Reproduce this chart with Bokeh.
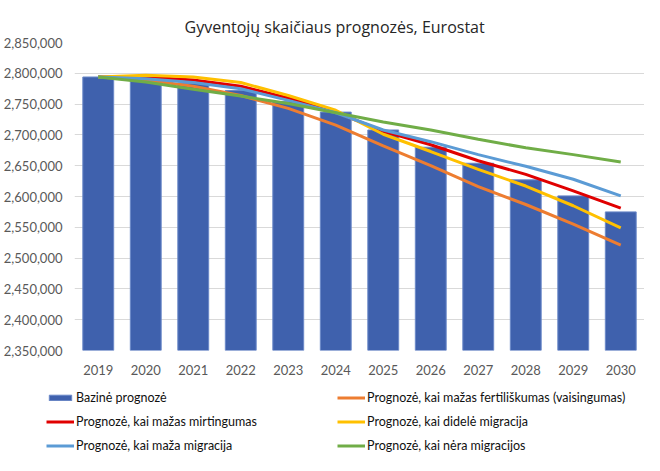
from bokeh.plotting import figure
from bokeh.layouts import column
from bokeh.models import Range1d, FactorRange, NumeralTickFormatter, Legend, LegendItem, FixedTicker
from bokeh.embed import file_html
from bokeh.resources import INLINE

years = ["2019", "2020", "2021", "2022", "2023", "2024", "2025", "2026", "2027", "2028", "2029", "2030"]
baseline = [2794000, 2791000, 2784000, 2772000, 2754000, 2737000, 2708000, 2680000, 2654000, 2627000, 2601000, 2575000]
low_fertility = [2794000, 2789000, 2779000, 2764000, 2743000, 2716000, 2682000, 2650000, 2616000, 2587000, 2555000, 2521000]
low_mortality = [2794000, 2794000, 2789000, 2779000, 2760000, 2737000, 2706000, 2684000, 2658000, 2636000, 2609000, 2581000]
high_migration = [2794000, 2797000, 2794000, 2785000, 2764000, 2740000, 2701000, 2673000, 2644000, 2617000, 2585000, 2549000]
low_migration = [2794000, 2791000, 2785000, 2775000, 2756000, 2736000, 2708000, 2689000, 2668000, 2649000, 2628000, 2601000]
no_migration = [2794000, 2786000, 2774000, 2763000, 2751000, 2736000, 2721000, 2708000, 2693000, 2679000, 2668000, 2656000]

y_ticks = list(range(2350000, 2850001, 50000))
y_min, y_max = 2350000, 2850000

labels = {
    "base": "Bazinė prognozė",
    "fert": "Prognozė, kai mažas fertiliškumas (vaisingumas)",
    "mort": "Prognozė, kai mažas mirtingumas",
    "high": "Prognozė, kai didelė migracija",
    "low": "Prognozė, kai maža migracija",
    "none": "Prognozė, kai nėra migracijos",
}

FONT = "Lato"
TXT = "#595959"
BAR_FILL = "#3F61AD"
BAR_LINE = "#6A88C8"

p = figure(width=644, height=378, x_range=FactorRange(*years, range_padding=0),
           y_range=Range1d(y_min, y_max), output_backend="svg", toolbar_location=None,
           min_border_left=66, min_border_right=0, min_border_top=42, min_border_bottom=28,
           title="Gyventojų skaičiaus prognozės, Eurostat")
p.frame_align = False

p.title.align = "left"
p.title.offset = 110
p.title.text_font = "Open Sans"
p.title.text_font_size = "16px"
p.title.text_font_style = "normal"
p.title.text_color = "#262626"

p.outline_line_color = None
p.background_fill_color = "white"
p.border_fill_color = "white"

p.xgrid.grid_line_color = None
p.ygrid.grid_line_color = "#d9d9d9"
p.ygrid.grid_line_width = 1

p.yaxis.ticker = FixedTicker(ticks=y_ticks)
p.yaxis.formatter = NumeralTickFormatter(format="0,0")
for ax in (p.xaxis[0], p.yaxis[0]):
    ax.axis_line_color = None
    ax.major_tick_line_color = None
    ax.minor_tick_line_color = None
    ax.major_label_text_font = FONT
    ax.major_label_text_font_size = "13px"
    ax.major_label_text_color = TXT
p.yaxis.major_label_standoff = 6
p.xaxis.major_label_standoff = 8

p.vbar(x=years, top=baseline, bottom=y_min, width=0.65,
       fill_color=BAR_FILL, line_color=BAR_LINE, line_width=1)

series = [
    ("fert", low_fertility, "#ED7D31"),
    ("mort", low_mortality, "#E00000"),
    ("high", high_migration, "#FFC000"),
    ("low", low_migration, "#5B9BD5"),
    ("none", no_migration, "#70AD47"),
]
for key, vals, col in series:
    p.line(x=years, y=vals, line_color=col, line_width=3)

# Legend panel: a separate figure whose frame holds only the legend.
# The carrier glyphs use the same data but lie just below this panel's y range (not visible).
lg = figure(width=644, height=77, x_range=FactorRange(*years),
            y_range=Range1d(y_max, y_max + (y_max - y_min)),
            output_backend="svg", toolbar_location=None,
            min_border_left=0, min_border_right=0, min_border_top=0, min_border_bottom=0)
lg.frame_align = False
lg.axis.visible = False
lg.grid.grid_line_color = None
lg.outline_line_color = None
lg.border_fill_color = "white"
lg.background_fill_color = "white"

carriers = {"base": lg.vbar(x=years, top=baseline, bottom=y_min, width=0.65,
                            fill_color=BAR_FILL, line_color=BAR_LINE)}
for key, vals, col in series:
    carriers[key] = lg.line(x=years, y=vals, line_color=col, line_width=3)

order = ["base", "mort", "low", "fert", "high", "none"]
legend = Legend(items=[LegendItem(label=labels[k], renderers=[carriers[k]]) for k in order],
                ncols=2, orientation="vertical", location=(46, 1),
                label_text_font=FONT, label_text_font_size="12.5px", label_text_color="#111111",
                glyph_width=28, glyph_height=7, label_standoff=2, label_width=255,
                label_height=18, spacing=6, padding=2, margin=0,
                border_line_color=None, background_fill_alpha=0)
lg.add_layout(legend, "center")

open("out.html", "w").write(file_html(column(p, lg), INLINE))
